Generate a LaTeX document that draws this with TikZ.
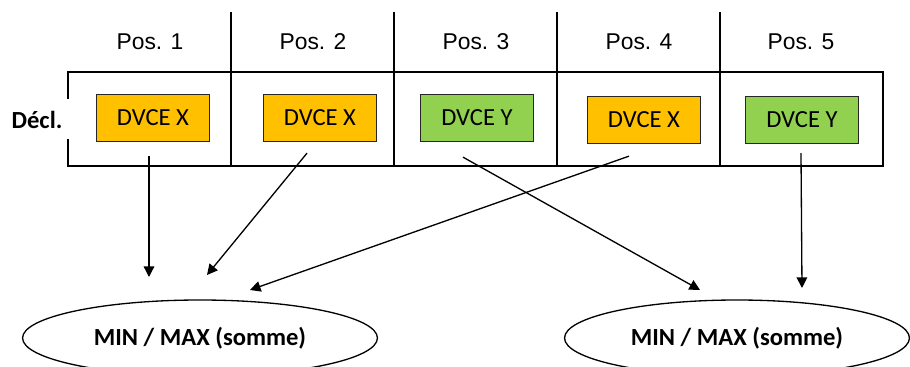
\documentclass[tikz,border=0pt]{standalone}
\usepackage{fontspec}
\setmainfont{Carlito}
\newfontfamily\posfont{Liberation Sans}
\usetikzlibrary{arrows.meta,shapes.geometric}
\definecolor{dvcex}{HTML}{FFC000}
\definecolor{dvcey}{HTML}{92D050}

\begin{document}
\begin{tikzpicture}[x=0.02cm, y=-0.02cm, line width=0.75pt,
                dvce/.style={draw=black!85, minimum width=2.26cm, minimum height=0.94cm, font=\fontsize{14}{16}\selectfont},
                poslabel/.style={font=\posfont\fontsize{13}{15}\selectfont},
                somme/.style={draw, ellipse, minimum height=1.52cm, font=\bfseries\fontsize{14}{16}\selectfont},
                fleche/.style={-{Triangle[length=6pt,width=6pt]}}]
                \useasboundingbox (0,0) rectangle (910,367);
                \clip (0,0) rectangle (910,367);
                \draw (68,99) -- (68,72) -- (883,72) -- (883,166) -- (68,166) -- (68,139);
                \foreach \x in {231,394,557,720}
                    \draw (\x,12) -- (\x,166);
                \node[poslabel] (p1) at (150,42) {Pos. 1};
                \node[poslabel] (p2) at (313,42) {Pos. 2};
                \node[poslabel] (p3) at (476,42) {Pos. 3};
                \node[poslabel] (p4) at (639,42) {Pos. 4};
                \node[poslabel] (p5) at (801,42) {Pos. 5};
                \node[font=\bfseries\fontsize{14}{16}\selectfont] (decl) at (37,120) {Décl.};
                \node[dvce, fill=dvcex] (b1) at (153,118) {DVCE X};
                \node[dvce, fill=dvcex] (b2) at (320,118) {DVCE X};
                \node[dvce, fill=dvcey] (b3) at (477,118) {DVCE Y};
                \node[dvce, fill=dvcex] (b4) at (644,120) {DVCE X};
                \node[dvce, fill=dvcey] (b5) at (802,120) {DVCE Y};
                \node[somme, minimum width=7.1cm] (s1) at (200,338) {MIN / MAX (somme)};
                \node[somme, minimum width=6.9cm] (s2) at (737,338) {MIN / MAX (somme)};
                \coordinate (e1) at (149,277);
                \coordinate (e2) at (207,275);
                \coordinate (e3) at (250,290);
                \coordinate (e4) at (700,290);
                \coordinate (e5) at (802,288);
                \draw[fleche] ([shift={(-4,14)}]b1.south) -- (e1);
                \draw[fleche] ([shift={(-13,11)}]b2.south) -- (e2);
                \draw[fleche] ([shift={(-15,12)}]b4.south) -- (e3);
                \draw[fleche] ([shift={(-14,15)}]b3.south) -- (e4);
                \draw[fleche] ([shift={(-1,9)}]b5.south) -- (e5);
\end{tikzpicture}
\end{document}
